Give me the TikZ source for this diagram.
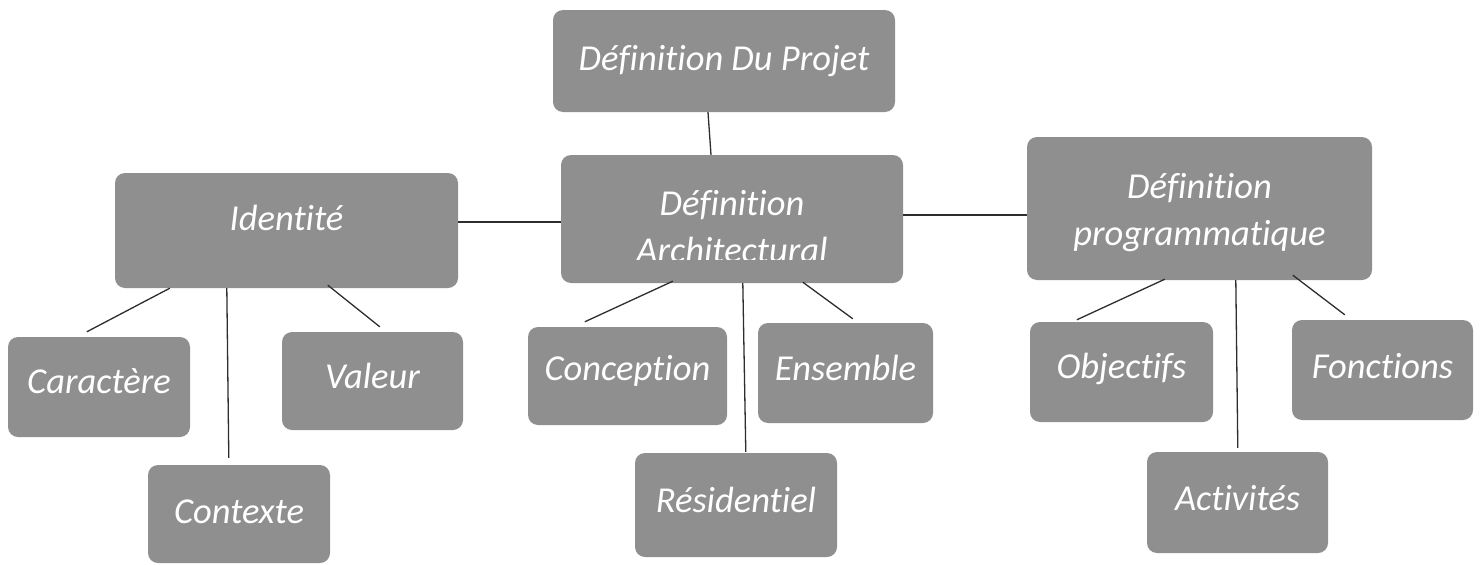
\documentclass[tikz,border=0pt]{standalone}
\usepackage{fontspec}
\setmainfont{Carlito}[Ligatures=NoCommon]
\usetikzlibrary{calc}
\definecolor{boxgray}{RGB}{143,143,143}
\definecolor{linegray}{RGB}{45,45,45}
\newcommand\mylab[2]{\raisebox{-#1pt}{#2}}
\newcommand\twolines[2]{\begin{tabular}[b]{@{}c@{}}#1\\#2\end{tabular}}
\tikzset{
  box/.style={rectangle, rounded corners=10pt, fill=boxgray, draw=none,
    text=white, font=\fontsize{36.5}{47}\selectfont\itshape,
    text height=0pt, text depth=0pt, inner sep=0pt},
  sz/.style 2 args={minimum width=#1pt, minimum height=#2pt},
  conn/.style={draw=linegray, line width=1.3pt},
}
\begin{document}
\begin{tikzpicture}[x=1pt,y=-1pt]
\useasboundingbox (0,0) rectangle (1481,565);
% level 0
\node[box, sz={342}{102}] (projet) at (724,61) {\mylab{9}{Définition Du Projet}};
% level 1
\node[box, sz={343}{115}] (ident) at (286.5,230.5) {\mylab{0}{Identité}};
\node[box, sz={342}{128}] (archi) at (732,219) {};
\begin{scope}
  \clip (archi.north west) rectangle ([yshift=24pt]archi.south east);
  \node[box, fill=none] (architxt) at (archi.center) {\mylab{43}{\twolines{Définition}{Architectural}}};
\end{scope}
\node[box, sz={345}{143}] (prog) at (1199.5,208.5) {\mylab{36.5}{\twolines{Définition}{programmatique}}};
% level 2
\node[box, sz={182}{100}] (carac) at (99,387) {\mylab{6}{Caractère}};
\node[box, sz={181}{98}] (valeur) at (372.5,381) {\mylab{7}{Valeur}};
\node[box, sz={182}{98}] (contexte) at (239,514) {\mylab{9}{Contexte}};
\node[box, sz={199}{98}] (concep) at (627.5,376) {\mylab{4}{Conception}};
\node[box, sz={175}{100}] (ensemble) at (845.5,373) {\mylab{7}{Ensemble}};
\node[box, sz={202}{104}] (resid) at (736,505) {\mylab{7}{Résidentiel}};
\node[box, sz={183}{100}] (object) at (1121.5,372) {\mylab{6}{Objectifs}};
\node[box, sz={181}{100}] (fonct) at (1382.5,370) {\mylab{8}{Fonctions}};
\node[box, sz={181}{101}] (activ) at (1237.5,502.5) {\mylab{7.5}{Activités}};
% connectors
\draw[conn] ([xshift=-16pt]projet.south) -- ([xshift=-21pt]archi.north);
\draw[conn] ([yshift=8.5pt]ident.east) -- ([yshift=-3pt]archi.west);
\draw[conn] ([yshift=4pt]archi.east) -- ([yshift=-6.5pt]prog.west);
\draw[conn] ([xshift=55pt]ident.south west) -- ([xshift=79pt,yshift=5pt]carac.north west);
\draw[conn] ([xshift=112pt]ident.south west) -- ([xshift=81pt,yshift=7pt]contexte.north west);
\draw[conn] ([xshift=213pt,yshift=3pt]ident.south west) -- ([xshift=98pt,yshift=5pt]valeur.north west);
\draw[conn] ([xshift=112pt,yshift=2pt]archi.south west) -- ([xshift=57pt,yshift=5pt]concep.north west);
\draw[conn] ([xshift=182pt]archi.south west) -- ([xshift=111pt,yshift=1pt]resid.north west);
\draw[conn] ([xshift=242pt,yshift=1pt]archi.south west) -- ([xshift=95pt,yshift=4pt]ensemble.north west);
\draw[conn] ([xshift=138pt,yshift=1pt]prog.south west) -- ([xshift=47pt,yshift=2pt]object.north west);
\draw[conn] ([xshift=209pt]prog.south west) -- ([xshift=91pt,yshift=4pt]activ.north west);
\draw[conn] ([xshift=266pt,yshift=5pt]prog.south west) -- ([xshift=53pt,yshift=5pt]fonct.north west);
\end{tikzpicture}
\end{document}
